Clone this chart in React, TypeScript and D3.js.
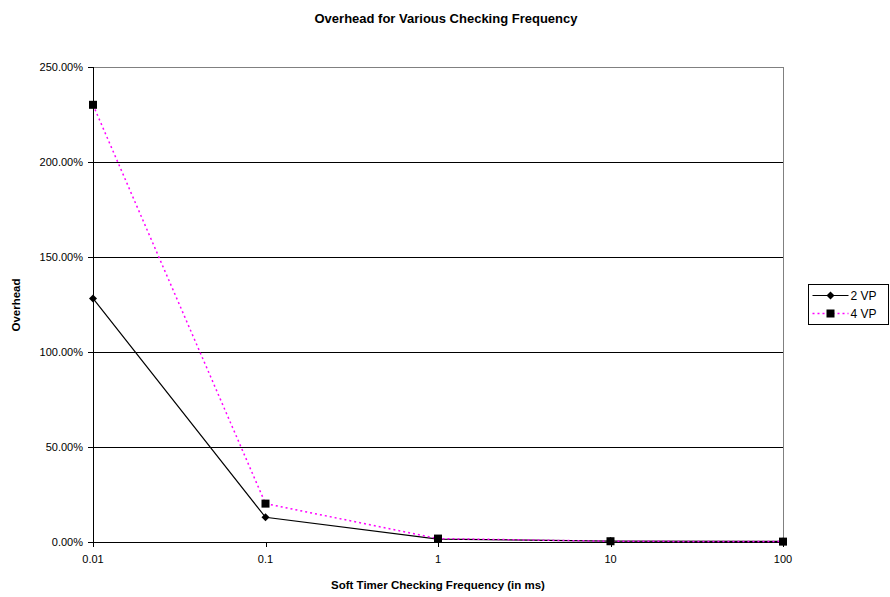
import React from 'react';
import * as d3 from 'd3';

const categories = ['0.01', '0.1', '1', '10', '100'];
const vp2 = [128.2, 13.0, 1.5, 0.5, 0.3];
const vp4 = [230.1, 20.2, 1.8, 0.4, 0.2];
const yTicks = [0, 50, 100, 150, 200, 250];

const series = [
  { name: '2 VP', values: vp2, color: '#000000', dash: null, marker: 'diamond' },
  { name: '4 VP', values: vp4, color: '#FF00FF', dash: '2,3', marker: 'square' },
];

const margin = { top: 67, right: 107, bottom: 55, left: 93 };
const W = 890, H = 597;
const width = W - margin.left - margin.right;
const height = H - margin.top - margin.bottom;

const Marker = ({ type, x, y }: { type: string; x: number; y: number }) =>
  type === 'square'
    ? <rect x={x - 4} y={y - 4} width={8} height={8} fill="#000" />
    : <path d={`M${x},${y - 4}L${x + 4},${y}L${x},${y + 4}L${x - 4},${y}Z`} fill="#000" />;

export default function App() {
  const x = d3.scalePoint().domain(categories).range([0, width]);
  const y = d3.scaleLinear().domain([0, 250]).range([height, 0]);
  const line = d3.line<number>()
    .x((_, i) => x(categories[i]) as number)
    .y((d) => y(d));
  const r = (v: number) => Math.round(v) + 0.5;

  return (
    <svg width={W} height={H} style={{ position: 'absolute', left: 0, top: 0, fontFamily: 'Liberation Sans, Arial, sans-serif' }}>
      <rect width={W} height={H} fill="#fff" />
      <text x={446} y={23} textAnchor="middle" fontSize={13} fontWeight="bold">
        Overhead for Various Checking Frequency
      </text>
      <g transform={`translate(${margin.left},${margin.top})`}>
        {yTicks.map((t) => (
          <g key={t}>
            {t > 0 && t < 250 && <line x1={0} x2={width} y1={r(y(t))} y2={r(y(t))} stroke="#000" />}
            <line x1={-5} x2={0} y1={r(y(t))} y2={r(y(t))} stroke="#000" />
            <text x={-10} y={y(t)} dy="0.35em" textAnchor="end" fontSize={11}>{t.toFixed(2)}%</text>
          </g>
        ))}
        <line x1={0} x2={width} y1={0.5} y2={0.5} stroke="#808080" />
        <line x1={r(width)} x2={r(width)} y1={0} y2={height} stroke="#808080" />
        <line x1={0.5} x2={0.5} y1={0} y2={height} stroke="#000" />
        <line x1={0} x2={width} y1={r(height)} y2={r(height)} stroke="#000" />
        {categories.map((c) => (
          <g key={c}>
            <line x1={r(x(c) as number)} x2={r(x(c) as number)} y1={height} y2={height + 5} stroke="#000" />
            <text x={x(c)} y={height + 21} textAnchor="middle" fontSize={11}>{c}</text>
          </g>
        ))}
        {series.map((s) => (
          <g key={s.name}>
            <path d={line(s.values) || ''} fill="none" stroke={s.color} strokeWidth={s.dash ? 1.5 : 1.2}
              strokeDasharray={s.dash || undefined} />
            {s.values.map((v, i) => (
              <Marker key={i} type={s.marker} x={x(categories[i]) as number} y={y(v)} />
            ))}
          </g>
        ))}
        <text x={width / 2} y={height + 47} textAnchor="middle" fontSize={11.5} fontWeight="bold">
          Soft Timer Checking Frequency (in ms)
        </text>
      </g>
      <text transform={`translate(20,305) rotate(-90)`} textAnchor="middle" fontSize={11.5} fontWeight="bold">Overhead</text>
      <g transform="translate(808.5,284.5)">
        <rect width={80} height={40} fill="#fff" stroke="#000" />
        {series.map((s, i) => (
          <g key={s.name} transform={`translate(0,${11 + i * 18})`}>
            <line x1={4} x2={40} y1={0} y2={0} stroke={s.color} strokeWidth={s.dash ? 1.5 : 1.2}
              strokeDasharray={s.dash || undefined} />
            <Marker type={s.marker} x={22} y={0} />
            <text x={42} y={0} dy="0.35em" fontSize={12}>{s.name}</text>
          </g>
        ))}
      </g>
    </svg>
  );
}
